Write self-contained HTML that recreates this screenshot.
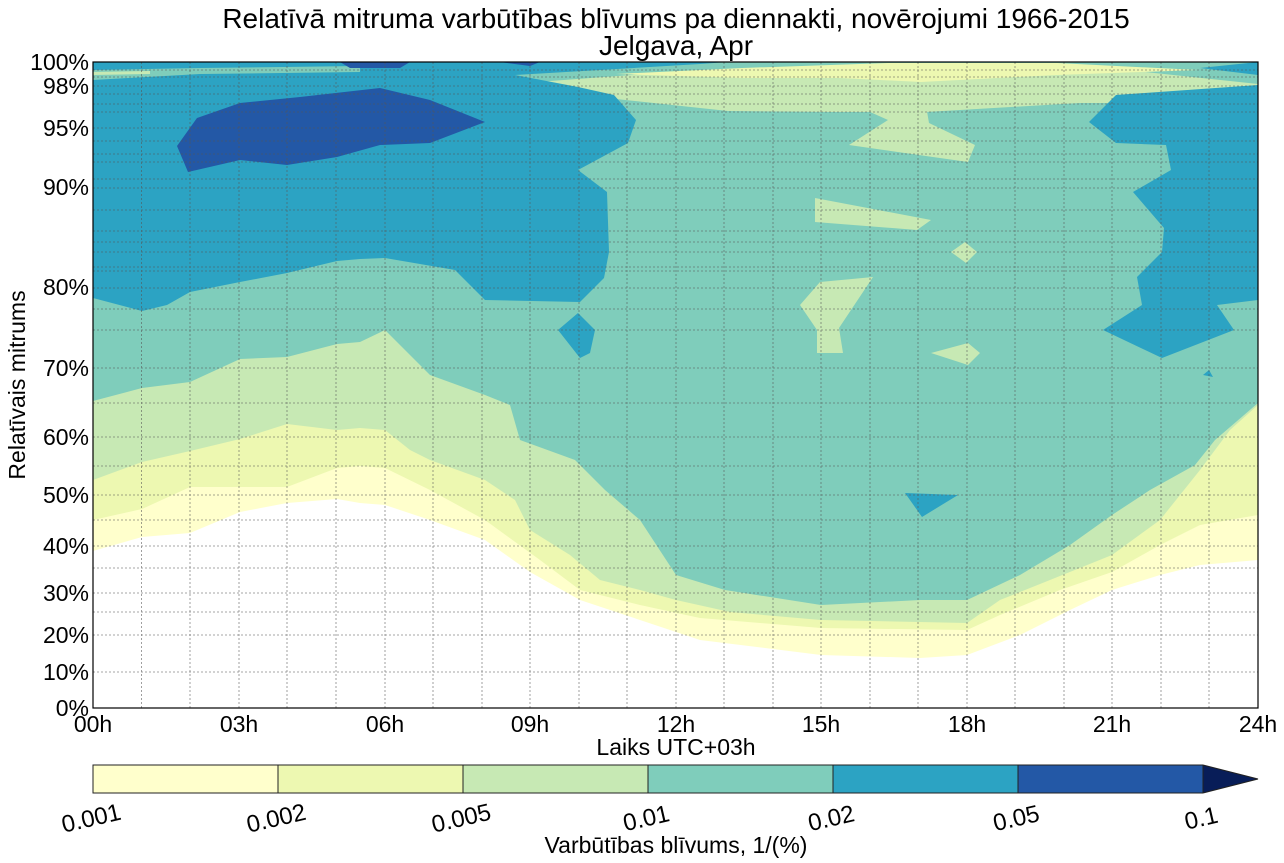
<!DOCTYPE html>
<html><head><meta charset="utf-8"><style>
body{margin:0;background:#fff;}
svg{display:block;font-family:"Liberation Sans",sans-serif;}
</style></head><body>
<svg width="1284" height="863" viewBox="0 0 1284 863">
<rect width="1284" height="863" fill="#fff"/>
<text x="676" y="28" font-size="28" text-anchor="middle">Relatīvā mitruma varbūtības blīvums pa diennakti, novērojumi 1966-2015</text>
<text x="676" y="55" font-size="28" text-anchor="middle">Jelgava, Apr</text>
<defs><clipPath id="c"><rect x="93" y="62" width="1165" height="646"/></clipPath></defs>
<g clip-path="url(#c)">
<polygon fill="#ffffcc" points="93,62 1258,62 1258,560 1200,565 1160,575 1112,590 1070,610 1020,635 967,655 920,658 821,655 700,640 640,620 580,600 530,572 485,540 430,520 385,505 360,503 337,499 287,503 240,512 190,533 142,537 93,551"/>
<polygon fill="#edf8b1" points="93,62 1258,62 1258,515 1200,525 1160,545 1112,572 1060,590 1000,615 967,630 821,628 700,618 640,605 580,590 540,560 485,520 430,490 385,468 360,466 337,468 287,487 240,487 190,487 142,509 93,520"/>
<polygon fill="#c7e9b4" points="93,62 1258,62 1258,405 1230,430 1200,470 1160,520 1112,555 1050,580 1000,600 967,623 821,620 730,612 676,600 640,590 600,580 570,555 530,530 515,500 485,480 430,460 410,450 385,430 360,428 337,430 287,424 240,439 190,451 142,462 93,480"/>
<polygon fill="#7fcdbb" points="93,62 1258,62 1258,403 1215,440 1195,465 1150,490 1112,515 1070,545 1020,575 967,600 920,600 821,605 725,590 676,575 640,520 605,490 575,460 520,440 510,405 485,395 430,375 410,355 385,330 360,342 337,344 287,357 240,359 190,382 142,388 93,401"/>
<polygon fill="#c7e9b4" points="510,84 645,74 840,67 1080,65 1258,84 1258,96 1145,103 1080,103 926,112 830,112 728,111 616,99"/>
<polygon fill="#edf8b1" points="616,74 742,68 888,63 1057,63 1198,70 1057,75 921,82 840,78 742,78"/>
<polygon fill="#c7e9b4" points="830,94 888,120 849,145 968,162 975,145 929,123 924,94"/>
<polygon fill="#c7e9b4" points="815,198 931,220 917,230 815,222"/>
<polygon fill="#c7e9b4" points="951,252 965,242 977,252 966,263"/>
<polygon fill="#c7e9b4" points="800,305 820,282 873,277 839,328 843,353 817,353 817,330"/>
<polygon fill="#c7e9b4" points="931,353 968,343 980,353 968,365"/>
<polygon fill="#2ca3c3" points="93,62 728,62 700,64 600,70 515,75 578,87 614,95 636,120 628,143 578,170 607,192 609,252 604,278 580,302 485,300 455,270 385,258 360,259 337,261 287,273 240,282 190,292 167,305 142,311 93,298"/>
<polygon fill="#7fcdbb" points="93,70 200,68 360,66 360,72 200,74 93,80"/>
<polygon fill="#c7e9b4" points="93,72 150,71 150,74 93,75"/>
<polygon fill="#2ca3c3" points="1258,62 1258,300 1217,305 1234,330 1162,358 1103,330 1142,305 1137,277 1162,252 1164,228 1133,192 1171,170 1166,145 1116,143 1089,122 1116,95 1258,85 1258,75 1200,68"/>
<polygon fill="#2ca3c3" points="1203,375 1209,370 1213,377"/>
<polygon fill="#2ca3c3" points="558,330 578,313 595,330 590,353 580,358"/>
<polygon fill="#2ca3c3" points="905,493 958,495 922,517"/>
<polygon fill="#2358a6" points="177,146 197,118 240,103 300,97 380,88 430,100 485,122 430,143 380,145 337,157 287,165 240,160 188,172"/>
<polygon fill="#2358a6" points="340,62 410,62 400,68 350,68"/>
<polygon fill="#2358a6" points="500,62 540,62 530,66"/>
</g>
<g stroke="#555" stroke-width="0.8" stroke-dasharray="2,2" opacity="0.7">
<path d="M141.5,62V708M190,62V708M239,62V708M287,62V708M336,62V708M385,62V708M433,62V708M482,62V708M530,62V708M579,62V708M627,62V708M676,62V708M724,62V708M773,62V708M821,62V708M870,62V708M918,62V708M967,62V708M1015,62V708M1064,62V708M1112,62V708M1161,62V708M1209,62V708"/>
<path d="M93,70H1258M93,77H1258M93,86H1258M93,94H1258M93,104H1258M93,112H1258M93,128H1258M93,141H1258M93,154H1258M93,162H1258M93,179H1258M93,188H1258M93,210H1258M93,231H1258M93,242H1258M93,252H1258M93,267H1258M93,271H1258M93,288H1258M93,309H1258M93,330H1258M93,368H1258M93,403H1258M93,437H1258M93,466H1258M93,495H1258M93,520H1258M93,546H1258M93,568H1258M93,593H1258M93,612H1258M93,635H1258M93,672H1258"/>
</g>
<rect x="93" y="62" width="1165" height="646" fill="none" stroke="#000" stroke-width="1.2"/>
<g font-size="23" text-anchor="end">
<text x="89" y="70">100%</text><text x="89" y="94">98%</text><text x="89" y="136">95%</text><text x="89" y="195">90%</text><text x="89" y="295">80%</text><text x="89" y="376">70%</text><text x="89" y="445">60%</text><text x="89" y="503">50%</text><text x="89" y="554">40%</text><text x="89" y="601">30%</text><text x="89" y="643">20%</text><text x="89" y="680">10%</text><text x="89" y="716">0%</text>
</g>
<g font-size="23" text-anchor="middle">
<text x="93" y="732">00h</text><text x="239" y="732">03h</text><text x="385" y="732">06h</text><text x="530" y="732">09h</text><text x="676" y="732">12h</text><text x="821" y="732">15h</text><text x="967" y="732">18h</text><text x="1112" y="732">21h</text><text x="1258" y="732">24h</text>
<text x="676" y="755">Laiks UTC+03h</text>
<text x="676" y="853">Varbūtības blīvums, 1/(%)</text>
</g>
<text transform="translate(25,385) rotate(-90)" font-size="23" text-anchor="middle">Relatīvais mitrums</text>
<rect x="93" y="765" width="185" height="28" fill="#ffffcc"/>
<rect x="278" y="765" width="185" height="28" fill="#edf8b1"/>
<rect x="463" y="765" width="185" height="28" fill="#c7e9b4"/>
<rect x="648" y="765" width="185" height="28" fill="#7fcdbb"/>
<rect x="833" y="765" width="185" height="28" fill="#2ca3c3"/>
<rect x="1018" y="765" width="185" height="28" fill="#2358a6"/>
<polygon points="1203,765 1258,779 1203,793" fill="#081d58"/>
<path d="M1203,765H93V793H1203M1203,765L1258,779L1203,793M278,765V793M463,765V793M648,765V793M833,765V793M1018,765V793M1203,765V793" fill="none" stroke="#222" stroke-width="1"/>
<g font-size="24" text-anchor="middle">
<text transform="translate(93,826) rotate(-13)">0.001</text>
<text transform="translate(278,826) rotate(-13)">0.002</text>
<text transform="translate(463,826) rotate(-13)">0.005</text>
<text transform="translate(648,826) rotate(-13)">0.01</text>
<text transform="translate(833,826) rotate(-13)">0.02</text>
<text transform="translate(1018,826) rotate(-13)">0.05</text>
<text transform="translate(1203,826) rotate(-13)">0.1</text>
</g>
</svg>
</body></html>
